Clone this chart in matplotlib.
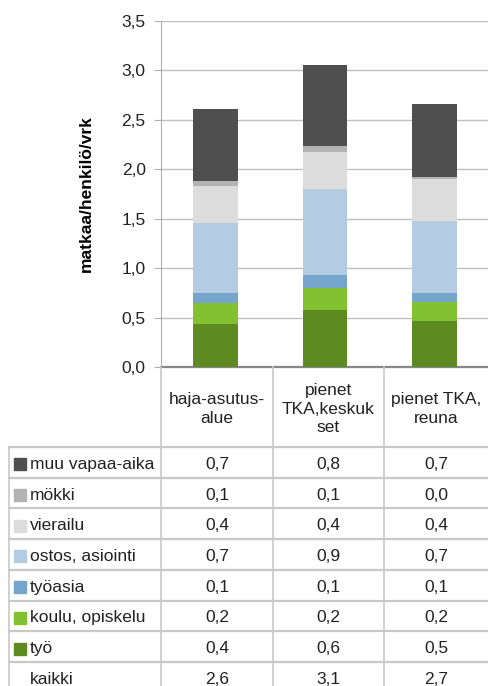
import matplotlib
matplotlib.use("Agg")
import matplotlib.pyplot as plt
from matplotlib.patches import Rectangle

plt.rcParams["font.family"] = ["Liberation Sans", "DejaVu Sans"]

# Luokat ja sarjat (alhaalta ylös pinottuna)
alueet = ["haja-asutus-\nalue", "pienet\nTKA,keskuk\nset", "pienet TKA,\nreuna"]
sarjat = ["työ", "koulu, opiskelu", "työasia", "ostos, asiointi",
          "vierailu", "mökki", "muu vapaa-aika"]
tyo = [0.435, 0.576, 0.465]
koulu = [0.209, 0.226, 0.195]
tyoasia = [0.104, 0.128, 0.088]
ostos = [0.708, 0.870, 0.728]
vierailu = [0.377, 0.374, 0.424]
mokki = [0.052, 0.061, 0.020]
muu = [0.720, 0.819, 0.740]
varit = ["#5d8b22", "#82c12f", "#76a5cc", "#b3cce2", "#dcdcdc", "#b3b3b3", "#4f4f4f"]

arvot = [tyo, koulu, tyoasia, ostos, vierailu, mokki, muu]
kaikki = [sum(s[i] for s in arvot) for i in range(len(alueet))]

W, H = 489, 686
fs = 12.5
fig = plt.figure(figsize=(W / 100, H / 100), dpi=100)

# pylväskaavio
x0, x1, ytop, ybot = 161, 489, 21, 367
ax = fig.add_axes([x0 / W, 1 - ybot / H, (x1 - x0) / W, (ybot - ytop) / H])
pohja = [0, 0, 0]
pos = [0.5, 1.5, 2.5]
for s, c in zip(arvot, varit):
    ax.bar(pos, s, bottom=pohja, width=0.41, color=c, zorder=3)
    pohja = [b + v for b, v in zip(pohja, s)]
ax.set_xlim(0, 3)
ax.set_ylim(0, 3.5)
yt = [i * 0.5 for i in range(8)]
ax.set_yticks(yt)
ax.set_yticklabels([f"{v:.1f}".replace(".", ",") for v in yt], fontsize=fs, color="#222222")
ax.set_xticks([])
ax.tick_params(axis="y", length=5, color="#b0b0b0", pad=6)
ax.grid(axis="y", color="#c0c0c0", linewidth=1, zorder=0)
ax.spines["right"].set_visible(False)
ax.spines["top"].set_color("#c0c0c0")
ax.spines["left"].set_color("#b0b0b0")
ax.spines["bottom"].set_color("#888888")
ax.spines["bottom"].set_linewidth(1.6)
ax.set_ylabel("matkaa/henkilö/vrk", fontsize=fs, fontweight="bold", labelpad=20)

# taulukko
tx = fig.add_axes([0, 0, 1, 1])
tx.set_xlim(0, W)
tx.set_ylim(H, 0)
tx.axis("off")
tx.patch.set_alpha(0)

sarakkeet = [161, 273, 384, 489]
head_bot = 447
rh = 30.7
rivit = list(reversed(sarjat)) + ["kaikki"]
rivivarit = list(reversed(varit)) + [None]
rividata = list(reversed(arvot)) + [kaikki]
lc = "#c8c8c8"

# pystyviivat
for xv in sarakkeet[:3]:
    tx.plot([xv, xv], [ybot, H], color=lc, lw=1.2)
tx.plot([9, 9], [head_bot, H], color=lc, lw=1.2)
# vaakaviivat
tx.plot([9, W], [head_bot, head_bot], color=lc, lw=1.6)
for i in range(1, len(rivit)):
    yy = head_bot + i * rh
    tx.plot([9, W], [yy, yy], color=lc, lw=1.6)

# otsikot
for i, a in enumerate(alueet):
    cx = (sarakkeet[i] + sarakkeet[i + 1]) / 2
    tx.text(cx, (ybot + head_bot) / 2 + 2, a, ha="center", va="center",
            fontsize=fs, linespacing=1.3, color="#222222")

# rivit
for r, (nimi, c, d) in enumerate(zip(rivit, rivivarit, rividata)):
    cy = head_bot + r * rh + rh / 2 + 2
    if c is not None:
        tx.add_patch(Rectangle((14, cy - 6), 12, 12, color=c))
    tx.text(30, cy, nimi, ha="left", va="center", fontsize=fs, color="#222222")
    for i, v in enumerate(d):
        cx = (sarakkeet[i] + sarakkeet[i + 1]) / 2
        tx.text(cx, cy, f"{v:.1f}".replace(".", ","), ha="center", va="center",
                fontsize=fs, color="#222222")

fig.savefig("out.png", dpi=100)
